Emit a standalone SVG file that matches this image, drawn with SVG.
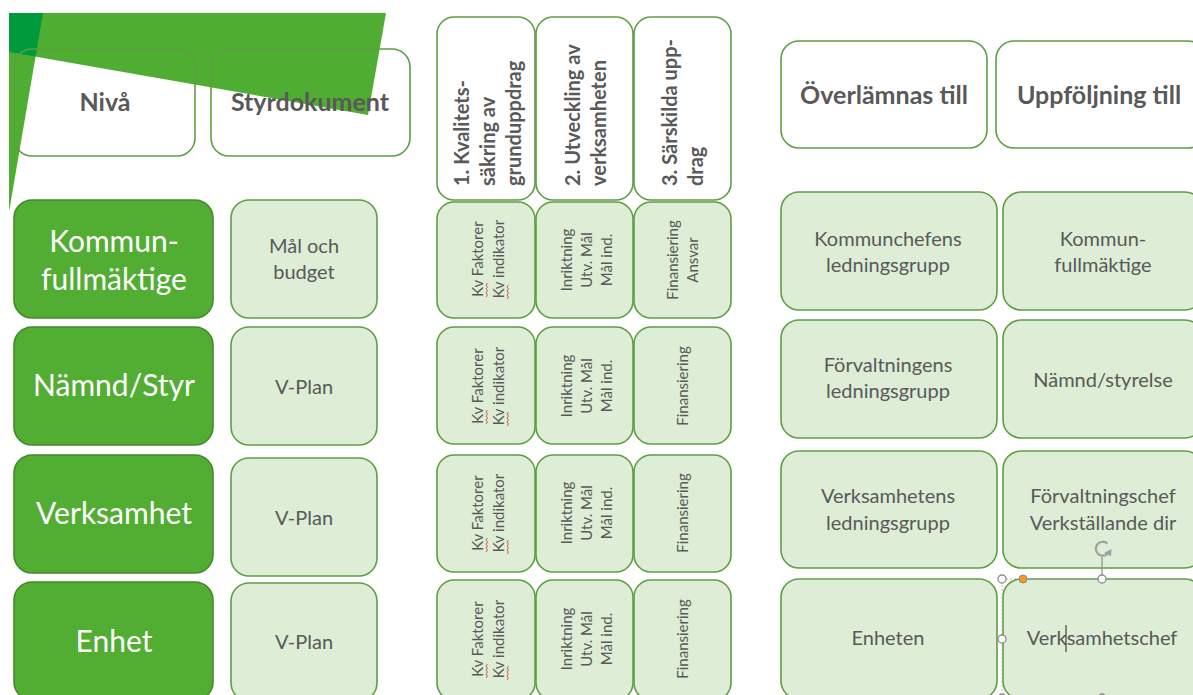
<svg xmlns="http://www.w3.org/2000/svg" width="1193" height="695" viewBox="0 0 1193 695">
<defs>
<style>
.hdr{fill:none;stroke:#5E9E43;stroke-width:1.6}
.hdrw{fill:#FFFFFF;stroke:#5E9E43;stroke-width:1.6}
.dark{fill:#52AD33;stroke:#44892C;stroke-width:1.6}
.light{fill:#DDEDD6;stroke:#5E9E43;stroke-width:1.6}
.ht{font-family:Lato,"Liberation Sans",sans-serif;font-weight:bold;font-size:25px;fill:#595959;text-anchor:middle}
.rh{font-family:Lato,"Liberation Sans",sans-serif;font-weight:bold;font-size:20px;fill:#595959}
.wt{font-family:Lato,"Liberation Sans",sans-serif;font-size:30px;fill:#FFFFFF;text-anchor:middle}
.gt{font-family:Lato,"Liberation Sans",sans-serif;font-size:20px;fill:#595959;text-anchor:middle}
.ct{font-family:Lato,"Liberation Sans",sans-serif;font-size:15px;fill:#595959;text-anchor:middle}
.wave{fill:none;stroke:#E04040;stroke-width:0.9}
.hnd{fill:#FFFFFF;stroke:#8C8C8C;stroke-width:1.3}
</style>
</defs>
<rect width="1193" height="695" fill="#FFFFFF"/>
<g id="background">
<polygon points="9,13 386,13 368,115 9,52" fill="#4FAD32"/>
<polygon points="9,13 43,13 9,212" fill="#4FAD32"/>
<polygon points="9,13 43,13 35.5,56.6 9,52" fill="#00993C"/>
</g>
<g id="header-niva"><rect class="hdr" x="14" y="49" width="181" height="107" rx="18"/><text class="ht" x="105" y="111">Nivå</text></g>
<g id="header-styrdokument"><rect class="hdr" x="211" y="49" width="199" height="107" rx="18"/><text class="ht" x="310" y="111">Styrdokument</text></g>
<g id="header-kvalitet"><rect class="hdrw" x="437" y="17" width="98" height="183" rx="17"/>
<text class="rh" transform="rotate(-90)"><tspan x="-186" y="469">1. Kvalitets-</tspan><tspan x="-186" y="495">säkring av</tspan><tspan x="-186" y="521">grunduppdrag</tspan></text></g>
<g id="header-utveckling"><rect class="hdrw" x="536" y="17" width="97" height="183" rx="17"/>
<text class="rh" transform="rotate(-90)"><tspan x="-186" y="580">2. Utveckling av</tspan><tspan x="-186" y="606">verksamheten</tspan></text></g>
<g id="header-sarskilda"><rect class="hdrw" x="634" y="17" width="97" height="183" rx="17"/>
<text class="rh" transform="rotate(-90)"><tspan x="-186" y="677">3. Särskilda upp-</tspan><tspan x="-186" y="703">drag</tspan></text></g>
<g id="header-overlamnas"><rect class="hdrw" x="781" y="41" width="206" height="107" rx="18"/><text class="ht" x="884" y="104">Överlämnas till</text></g>
<g id="header-uppfoljning"><rect class="hdrw" x="996" y="41" width="210" height="107" rx="18"/><text class="ht" x="1099" y="104">Uppföljning till</text></g>

<g id="niva-kf"><rect class="dark" x="14" y="200" width="199" height="118" rx="18"/><text class="wt" x="114" y="252">Kommun-</text><text class="wt" x="114" y="290">fullmäktige</text></g>
<g id="niva-namnd"><rect class="dark" x="14" y="327" width="199" height="118" rx="18"/><text class="wt" x="114" y="396">Nämnd/Styr</text></g>
<g id="niva-verksamhet"><rect class="dark" x="14" y="455" width="199" height="118" rx="18"/><text class="wt" x="114" y="524">Verksamhet</text></g>
<g id="niva-enhet"><rect class="dark" x="14" y="582" width="199" height="118" rx="18"/><text class="wt" x="114" y="652">Enhet</text></g>

<g id="styr-1"><rect class="light" x="231" y="200" width="146" height="118" rx="18"/><text class="gt" x="304" y="253">Mål och</text><text class="gt" x="304" y="279">budget</text></g>
<g id="styr-2"><rect class="light" x="231" y="327" width="146" height="118" rx="18"/><text class="gt" x="304" y="394">V-Plan</text></g>
<g id="styr-3"><rect class="light" x="231" y="458" width="146" height="118" rx="18"/><text class="gt" x="304" y="525">V-Plan</text></g>
<g id="styr-4"><rect class="light" x="231" y="583" width="146" height="118" rx="18"/><text class="gt" x="304" y="649">V-Plan</text></g>

<g id="kv-1"><rect class="light" x="437" y="202" width="98" height="116" rx="17"/><text class="ct" transform="rotate(-90)"><tspan x="-259" y="483">Kv Faktorer</tspan><tspan x="-259" y="504">Kv indikator</tspan></text>
<path class="wave" d="M486,297 l1.5,-2 l-1.5,-2 l1.5,-2 l-1.5,-2 l1.5,-2 l-1.5,-2 l1.5,-2 M507,299 l1.5,-2 l-1.5,-2 l1.5,-2 l-1.5,-2 l1.5,-2 l-1.5,-2 l1.5,-2"/></g>
<g id="utv-1"><rect class="light" x="536" y="202" width="97" height="116" rx="17"/><text class="ct" transform="rotate(-90)"><tspan x="-260" y="572">Inriktning</tspan><tspan x="-260" y="592">Utv. Mål</tspan><tspan x="-260" y="612">Mål ind.</tspan></text></g>
<g id="sar-1"><rect class="light" x="634" y="202" width="97" height="116" rx="17"/><text class="ct" transform="rotate(-90)"><tspan x="-260" y="678">Finansiering</tspan><tspan x="-260" y="698">Ansvar</tspan></text></g>

<g id="kv-2"><rect class="light" x="437" y="327" width="98" height="117" rx="17"/><text class="ct" transform="rotate(-90)"><tspan x="-386" y="483">Kv Faktorer</tspan><tspan x="-386" y="504">Kv indikator</tspan></text>
<path class="wave" d="M486,424 l1.5,-2 l-1.5,-2 l1.5,-2 l-1.5,-2 l1.5,-2 l-1.5,-2 l1.5,-2 M507,426 l1.5,-2 l-1.5,-2 l1.5,-2 l-1.5,-2 l1.5,-2 l-1.5,-2 l1.5,-2"/></g>
<g id="utv-2"><rect class="light" x="536" y="327" width="97" height="117" rx="17"/><text class="ct" transform="rotate(-90)"><tspan x="-386" y="572">Inriktning</tspan><tspan x="-386" y="592">Utv. Mål</tspan><tspan x="-386" y="612">Mål ind.</tspan></text></g>
<g id="sar-2"><rect class="light" x="634" y="327" width="97" height="117" rx="17"/><text class="ct" transform="rotate(-90)"><tspan x="-386" y="688">Finansiering</tspan></text></g>

<g id="kv-3"><rect class="light" x="437" y="455" width="98" height="117" rx="17"/><text class="ct" transform="rotate(-90)"><tspan x="-513" y="483">Kv Faktorer</tspan><tspan x="-513" y="504">Kv indikator</tspan></text>
<path class="wave" d="M486,552 l1.5,-2 l-1.5,-2 l1.5,-2 l-1.5,-2 l1.5,-2 l-1.5,-2 l1.5,-2 M507,554 l1.5,-2 l-1.5,-2 l1.5,-2 l-1.5,-2 l1.5,-2 l-1.5,-2 l1.5,-2"/></g>
<g id="utv-3"><rect class="light" x="536" y="455" width="97" height="117" rx="17"/><text class="ct" transform="rotate(-90)"><tspan x="-513" y="572">Inriktning</tspan><tspan x="-513" y="592">Utv. Mål</tspan><tspan x="-513" y="612">Mål ind.</tspan></text></g>
<g id="sar-3"><rect class="light" x="634" y="455" width="97" height="117" rx="17"/><text class="ct" transform="rotate(-90)"><tspan x="-513" y="688">Finansiering</tspan></text></g>

<g id="kv-4"><rect class="light" x="437" y="580" width="98" height="120" rx="17"/><text class="ct" transform="rotate(-90)"><tspan x="-639" y="483">Kv Faktorer</tspan><tspan x="-639" y="504">Kv indikator</tspan></text>
<path class="wave" d="M486,678 l1.5,-2 l-1.5,-2 l1.5,-2 l-1.5,-2 l1.5,-2 l-1.5,-2 l1.5,-2 M507,680 l1.5,-2 l-1.5,-2 l1.5,-2 l-1.5,-2 l1.5,-2 l-1.5,-2 l1.5,-2"/></g>
<g id="utv-4"><rect class="light" x="536" y="580" width="97" height="120" rx="17"/><text class="ct" transform="rotate(-90)"><tspan x="-639" y="572">Inriktning</tspan><tspan x="-639" y="592">Utv. Mål</tspan><tspan x="-639" y="612">Mål ind.</tspan></text></g>
<g id="sar-4"><rect class="light" x="634" y="580" width="97" height="120" rx="17"/><text class="ct" transform="rotate(-90)"><tspan x="-639" y="688">Finansiering</tspan></text></g>

<g id="over-1"><rect class="light" x="781" y="192" width="216" height="118" rx="18"/><text class="gt" x="888" y="246">Kommunchefens</text><text class="gt" x="888" y="272">ledningsgrupp</text></g>
<g id="upp-1"><rect class="light" x="1003" y="192" width="200" height="118" rx="18"/><text class="gt" x="1103" y="246">Kommun-</text><text class="gt" x="1103" y="272">fullmäktige</text></g>
<g id="over-2"><rect class="light" x="781" y="320" width="216" height="118" rx="18"/><text class="gt" x="888" y="372">Förvaltningens</text><text class="gt" x="888" y="398">ledningsgrupp</text></g>
<g id="upp-2"><rect class="light" x="1003" y="320" width="200" height="118" rx="18"/><text class="gt" x="1103" y="387">Nämnd/styrelse</text></g>
<g id="over-3"><rect class="light" x="781" y="451" width="216" height="117" rx="18"/><text class="gt" x="888" y="503">Verksamhetens</text><text class="gt" x="888" y="530">ledningsgrupp</text></g>
<g id="upp-3"><rect class="light" x="1003" y="451" width="200" height="117" rx="18"/><text class="gt" x="1103" y="503">Förvaltningschef</text><text class="gt" x="1103" y="530">Verkställande dir</text></g>
<g id="over-4"><rect class="light" x="781" y="579" width="216" height="120" rx="18"/><text class="gt" x="888" y="645">Enheten</text></g>
<g id="upp-4"><rect class="light" x="1003" y="579" width="200" height="120" rx="18"/><text class="gt" x="1102" y="645">Verksamhetschef</text>
<line x1="1066" y1="625" x2="1066" y2="652" stroke="#222222" stroke-width="1"/></g>

<g id="selection">
<rect x="1002" y="579" width="200" height="120" fill="none" stroke="#A6A6A6" stroke-width="0.8" stroke-dasharray="2,2"/>
<line x1="1102" y1="557" x2="1102" y2="579" stroke="#8C8C8C" stroke-width="1.2"/>
<path d="M1107.5,543.5 A7,7 0 1 0 1109,552" fill="none" stroke="#A0A0A0" stroke-width="2.2"/>
<path d="M1104,553 l7.5,-4 l-0.5,7 z" fill="#A0A0A0"/>
<circle class="hnd" cx="1002" cy="579" r="4"/>
<circle class="hnd" cx="1102" cy="579" r="4"/>
<circle class="hnd" cx="1002" cy="639" r="4"/>
<circle class="hnd" cx="1002" cy="698" r="4"/>
<circle class="hnd" cx="1102" cy="698" r="4"/>
<circle cx="1023" cy="579" r="4" fill="#F39C1F" stroke="#8C8C8C" stroke-width="1"/>
</g>
<g id="connectors"/>
</svg>
